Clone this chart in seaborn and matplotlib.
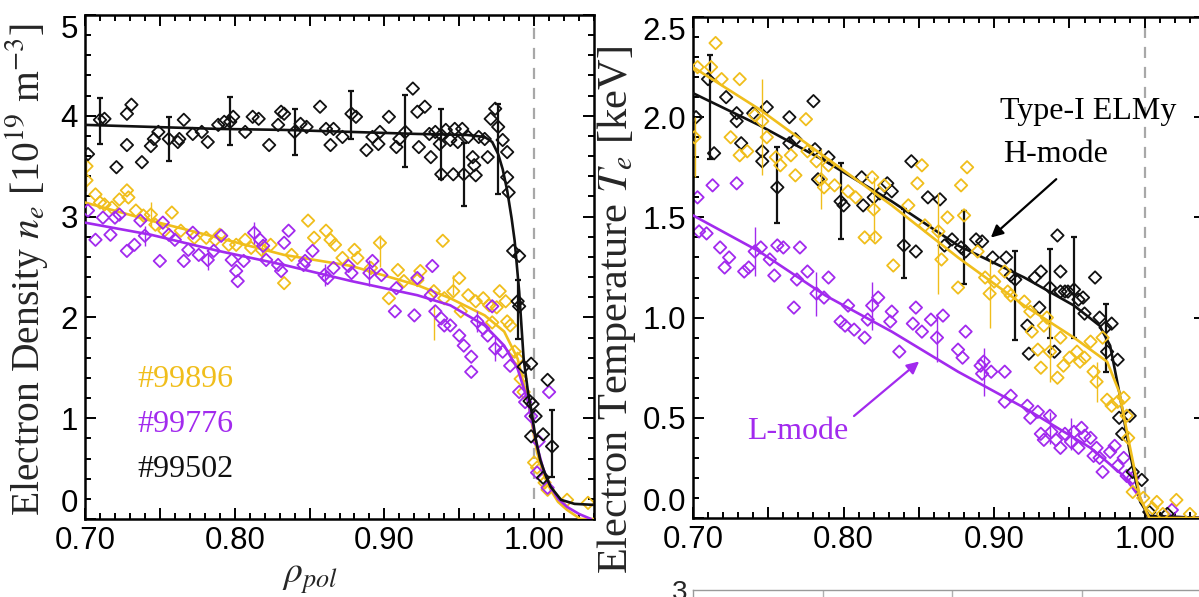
import matplotlib
matplotlib.use("Agg")
import matplotlib.pyplot as plt
import seaborn as sns
import pandas as pd
from matplotlib.ticker import MultipleLocator, FuncFormatter

# ---------------- data ----------------
# Left panel: electron density [1e19 m^-3] vs rho_pol
ne_h_pts = [(0.702,3.62),(0.710,3.96),(0.713,3.97),(0.721,3.49),(0.728,4.02),(0.731,4.11),(0.728,3.71),
            (0.738,3.54),(0.744,3.70),(0.746,3.77),(0.749,3.84),(0.756,3.77),(0.762,3.74),(0.763,3.77),
            (0.766,3.96),(0.772,3.82),(0.778,3.84),(0.782,3.74),(0.789,3.91),(0.793,3.94),(0.797,3.94),
            (0.799,3.99),(0.807,3.84),(0.812,3.99),(0.816,3.97),(0.823,3.71),(0.829,3.91),(0.831,4.04),
            (0.833,4.02),(0.840,3.84),(0.844,3.92),(0.848,3.89),(0.857,4.09),(0.861,3.87),(0.864,3.71),
            (0.866,3.87),(0.872,3.79),(0.878,4.02),(0.881,3.99),(0.888,3.66),(0.892,3.79),(0.896,3.72),
            (0.897,3.84),(0.903,3.99),(0.908,3.69),(0.910,3.77),(0.914,3.84),(0.919,4.27),(0.922,4.04),
            (0.923,3.69),(0.927,4.09),(0.930,3.82),(0.931,3.59),(0.934,3.84),(0.937,3.72),(0.938,3.42),
            (0.938,3.81),(0.941,3.86),(0.944,3.76),(0.946,3.42),(0.947,3.87),(0.949,3.74),(0.952,3.87),
            (0.953,3.42),(0.956,3.79),(0.959,3.59),(0.960,3.51),(0.961,3.41),(0.963,3.79),(0.967,3.77),
            (0.969,3.59),(0.971,3.97),(0.974,4.07),(0.976,3.89),(0.979,3.76),(0.982,3.64),(0.982,3.39),
            (0.983,3.24),(0.986,2.66),(0.990,2.61),(0.989,2.16),(0.990,2.11),(0.993,1.51),(0.998,1.54),
            (0.997,1.17),(0.999,1.14),(1.001,1.02),(1.006,0.84),(0.998,0.82),(1.012,0.72),(1.006,0.41),
            (1.009,1.38)]
ne_g_pts = [(0.701,3.36),(0.701,3.50),(0.707,3.22),(0.710,3.14),(0.713,3.12),(0.718,3.09),(0.723,3.17),
            (0.728,3.26),(0.729,3.19),(0.734,3.06),(0.739,3.01),(0.744,3.02),(0.747,2.92),(0.753,2.86),
            (0.758,3.04),(0.764,2.86),(0.773,2.79),(0.781,2.79),(0.787,2.77),(0.790,2.82),(0.796,2.72),
            (0.801,2.72),(0.807,2.77),(0.811,2.69),(0.818,2.67),(0.824,2.72),(0.833,2.34),(0.838,2.62),
            (0.849,2.96),(0.853,2.79),(0.861,2.86),(0.864,2.77),(0.867,2.72),(0.872,2.59),(0.880,2.67),
            (0.882,2.59),(0.891,2.49),(0.897,2.74),(0.903,2.19),(0.909,2.47),(0.913,2.36),(0.922,2.37),
            (0.924,2.46),(0.933,2.26),(0.939,2.76),(0.940,2.19),(0.946,2.26),(0.950,2.39),(0.951,2.06),
            (0.956,2.22),(0.961,2.16),(0.966,2.19),(0.970,2.12),(0.972,1.95),(0.975,2.10),(0.977,2.26),
            (0.981,2.16),(0.982,1.96),(0.984,1.92),(0.987,1.66),(0.989,1.59),(0.991,1.39),(0.993,1.26),
            (1.000,0.56),(1.002,0.51),(1.007,0.36),(1.009,0.29),(1.022,0.19),(1.036,0.16)]
ne_p_pts = [(0.702,3.06),(0.707,2.77),(0.712,2.99),(0.717,2.82),(0.720,2.99),(0.723,3.02),(0.728,2.66),
            (0.733,2.72),(0.737,2.96),(0.740,2.81),(0.750,2.56),(0.752,2.94),(0.756,2.82),(0.760,2.77),
            (0.766,2.56),(0.769,2.67),(0.772,2.84),(0.776,2.62),(0.782,2.57),(0.786,2.66),(0.791,2.81),
            (0.798,2.57),(0.801,2.46),(0.802,2.36),(0.806,2.56),(0.813,2.84),(0.817,2.77),(0.819,2.71),
            (0.821,2.57),(0.829,2.52),(0.831,2.46),(0.833,2.74),(0.836,2.86),(0.846,2.52),(0.847,2.56),
            (0.852,2.66),(0.860,2.42),(0.862,2.39),(0.866,2.49),(0.876,2.51),(0.878,2.44),(0.890,2.44),
            (0.892,2.56),(0.898,2.42),(0.907,2.06),(0.908,2.29),(0.920,2.02),(0.922,2.39),(0.931,2.22),
            (0.932,2.51),(0.934,2.06),(0.938,1.99),(0.940,1.92),(0.944,1.92),(0.950,1.82),(0.953,1.72),
            (0.958,1.61),(0.958,1.46),(0.962,1.96),(0.966,1.89),(0.969,1.82),(0.972,2.11),(0.974,1.69),
            (0.979,1.66),(0.984,1.52),(0.990,1.26),(0.994,1.16),(0.998,1.02),(1.003,0.77),(1.010,1.26),
            (1.002,0.46),(1.009,0.31)]
ne_h_fit = [(0.700,3.91),(0.744,3.89),(0.789,3.87),(0.833,3.86),(0.878,3.84),(0.922,3.82),(0.955,3.81),
            (0.967,3.79),(0.972,3.74),(0.976,3.62),(0.979,3.47),(0.982,3.26),(0.985,2.98),(0.987,2.76),
            (0.990,2.26),(0.993,1.59),(0.996,1.25),(0.998,1.09),(1.001,0.80),(1.004,0.59),(1.008,0.42),
            (1.011,0.32),(1.018,0.19),(1.027,0.15),(1.040,0.14)]
ne_g_fit = [(0.700,3.14),(0.744,2.96),(0.789,2.79),(0.833,2.62),(0.878,2.51),(0.922,2.32),(0.944,2.19),
            (0.967,2.02),(0.980,1.86),(0.989,1.59),(0.996,1.16),(1.002,0.66),(1.006,0.45),(1.011,0.29),
            (1.016,0.17),(1.022,0.09),(1.031,0.00),(1.040,0.00)]
ne_p_fit = [(0.700,2.94),(0.744,2.82),(0.789,2.66),(0.833,2.52),(0.878,2.36),(0.922,2.22),(0.944,2.12),
            (0.967,1.92),(0.980,1.72),(0.989,1.49),(0.996,1.16),(1.002,0.72),(1.006,0.50),(1.011,0.32),
            (1.016,0.20),(1.022,0.12),(1.030,0.05),(1.038,0.00)]
ne_h_err = [(0.710,3.95,0.23),(0.756,3.77,0.22),(0.797,3.95,0.24),(0.840,3.84,0.23),(0.878,4.01,0.24),
            (0.914,3.85,0.36),(0.938,3.72,0.35),(0.953,3.42,0.31),(0.976,3.67,0.45),(0.989,2.08,0.29),
            (1.012,0.75,0.33)]
ne_g_err = [(0.701,3.40,0.15),(0.744,3.02,0.12),(0.818,2.67,0.10),(0.897,2.66,0.16),(0.933,1.95,0.17),
            (0.946,2.32,0.10)]
ne_p_err = [(0.740,2.81,0.10),(0.782,2.57,0.10),(0.813,2.84,0.11),(0.860,2.42,0.11),(0.890,2.44,0.13),
            (0.962,1.96,0.10),(0.974,1.69,0.12)]

# Right panel: electron temperature [keV] vs rho_pol
te_h_pts = [(0.702,2.00),(0.710,2.19),(0.714,1.82),(0.722,2.10),(0.729,2.02),(0.729,1.98),(0.732,1.87),
            (0.740,2.02),(0.746,1.83),(0.746,1.78),(0.749,2.05),(0.756,1.65),(0.764,2.00),(0.764,1.87),
            (0.768,1.89),(0.780,2.08),(0.781,1.84),(0.783,1.69),(0.790,1.80),(0.798,1.58),(0.800,1.56),
            (0.812,1.70),(0.813,1.56),(0.820,1.60),(0.824,1.62),(0.829,1.67),(0.832,1.63),(0.840,1.36),
            (0.845,1.78),(0.848,1.33),(0.856,1.60),(0.864,1.59),(0.867,1.36),(0.872,1.39),(0.878,1.35),
            (0.881,1.33),(0.888,1.39),(0.892,1.38),(0.899,1.30),(0.908,1.30),(0.911,1.21),(0.914,1.19),
            (0.922,0.96),(0.923,0.82),(0.927,1.20),(0.931,1.23),(0.930,1.05),(0.937,1.15),(0.940,0.83),
            (0.942,1.41),(0.944,1.23),(0.944,1.13),(0.947,1.13),(0.949,1.13),(0.953,1.14),(0.956,1.09),
            (0.959,1.10),(0.960,1.02),(0.967,1.20),(0.970,1.00),(0.974,0.95),(0.975,0.83),(0.978,0.97),
            (0.982,0.79),(0.983,0.50),(0.985,0.42),(0.990,0.51),(0.992,0.23),(0.998,0.19),(1.003,0.03),
            (1.015,0.02)]
te_g_pts = [(0.701,1.90),(0.703,2.25),(0.712,2.25),(0.715,2.37),(0.719,2.19),(0.725,1.90),(0.731,2.19),
            (0.731,1.81),(0.736,1.83),(0.741,2.01),(0.746,1.98),(0.749,1.90),(0.755,1.80),(0.758,1.76),
            (0.765,1.81),(0.768,1.71),(0.775,1.99),(0.776,1.83),(0.782,1.78),(0.785,1.69),(0.787,1.65),
            (0.790,1.76),(0.794,1.66),(0.803,1.63),(0.808,1.60),(0.814,1.40),(0.819,1.70),(0.821,1.40),
            (0.820,1.54),(0.827,1.66),(0.833,1.26),(0.843,1.56),(0.849,1.67),(0.852,1.76),(0.854,1.46),
            (0.863,1.43),(0.865,1.29),(0.869,1.50),(0.876,1.15),(0.878,1.66),(0.880,1.51),(0.882,1.75),
            (0.889,1.33),(0.894,1.20),(0.897,1.12),(0.900,1.18),(0.907,1.23),(0.909,1.13),(0.911,1.11),
            (0.920,1.08),(0.924,1.03),(0.925,0.93),(0.929,0.84),(0.931,0.75),(0.933,0.96),(0.935,1.00),
            (0.937,0.83),(0.942,0.70),(0.944,0.90),(0.946,0.76),(0.950,0.80),(0.955,0.83),(0.957,0.78),
            (0.960,0.80),(0.964,0.88),(0.966,0.73),(0.968,0.68),(0.972,0.90),(0.975,0.59),(0.978,0.56),
            (0.982,0.58),(0.986,0.60),(0.988,0.51),(0.989,0.40),(0.992,0.13),(0.999,0.10),(1.005,0.05),
            (1.008,0.08),(1.012,0.02),(1.021,0.09),(1.030,0.02)]
te_p_pts = [(0.703,1.60),(0.704,1.43),(0.709,1.42),(0.713,1.66),(0.718,1.35),(0.721,1.25),(0.724,1.30),
            (0.729,1.67),(0.734,1.23),(0.737,1.25),(0.741,1.33),(0.745,1.35),(0.751,1.29),(0.754,1.21),
            (0.756,1.36),(0.760,1.35),(0.767,1.05),(0.769,1.19),(0.771,1.35),(0.776,1.23),(0.782,1.12),
            (0.787,1.10),(0.790,1.20),(0.798,0.98),(0.801,0.96),(0.803,1.06),(0.807,0.94),(0.814,0.90),
            (0.816,0.99),(0.819,1.06),(0.823,1.10),(0.831,0.98),(0.832,1.03),(0.837,0.83),(0.846,0.97),
            (0.848,1.05),(0.852,0.93),(0.858,0.99),(0.862,0.90),(0.866,1.01),(0.876,0.84),(0.879,0.80),
            (0.881,0.93),(0.891,0.76),(0.892,0.72),(0.893,0.78),(0.898,0.73),(0.907,0.73),(0.907,0.58),
            (0.911,0.61),(0.922,0.56),(0.924,0.50),(0.929,0.53),(0.931,0.42),(0.933,0.39),(0.937,0.51),
            (0.938,0.43),(0.941,0.39),(0.944,0.35),(0.947,0.42),(0.951,0.38),(0.953,0.43),(0.956,0.35),
            (0.958,0.45),(0.960,0.41),(0.964,0.40),(0.966,0.31),(0.968,0.35),(0.970,0.30),(0.972,0.23),
            (0.977,0.33),(0.980,0.36),(0.982,0.26),(0.986,0.30),(0.988,0.21),(0.992,0.20),(1.018,0.04)]
te_h_fit = [(0.700,2.12),(0.744,1.96),(0.788,1.78),(0.832,1.58),(0.876,1.36),(0.920,1.20),(0.953,1.06),
            (0.970,0.96),(0.977,0.86),(0.983,0.63),(0.990,0.33),(0.997,0.08),(1.003,0.01),(1.040,0.00)]
te_g_fit = [(0.700,2.25),(0.744,2.04),(0.788,1.80),(0.832,1.56),(0.876,1.30),(0.920,1.06),(0.953,0.90),
            (0.975,0.78),(0.983,0.63),(0.990,0.36),(0.997,0.10),(1.003,0.00),(1.040,0.00)]
te_p_fit = [(0.700,1.51),(0.744,1.33),(0.788,1.11),(0.832,0.93),(0.876,0.73),(0.920,0.55),(0.964,0.35),
            (0.986,0.21),(0.997,0.10),(1.002,0.01),(1.040,0.00)]
te_h_err = [(0.711,2.05,0.26),(0.756,1.66,0.19),(0.798,1.58,0.19),(0.840,1.37,0.17),(0.880,1.35,0.18),
            (0.914,1.11,0.22),(0.937,1.12,0.22),(0.953,1.15,0.25),(0.974,0.90,0.17)]
te_g_err = [(0.701,1.85,0.15),(0.746,1.95,0.24),(0.785,1.69,0.15),(0.820,1.54,0.16),(0.863,1.37,0.25),
            (0.897,1.12,0.17),(0.937,0.83,0.15),(0.968,0.68,0.10)]
te_p_err = [(0.741,1.33,0.12),(0.782,1.12,0.11),(0.819,1.06,0.12),(0.862,0.90,0.12),(0.893,0.73,0.12),
            (0.937,0.45,0.08),(0.951,0.42,0.08)]

shots = ["#99896", "#99776", "#99502"]
x_ticks = [0.70, 0.80, 0.90, 1.00]

GOLD = "#F0BE1C"
PURPLE = "#A22AEE"
BLACK = "#111111"
shot_colors = [GOLD, PURPLE, BLACK]

# ---------------- style ----------------
sns.set_theme(style="white")
plt.rcParams["font.family"] = ["Liberation Sans", "DejaVu Sans"]
plt.rcParams["mathtext.fontset"] = "stix"
SERIF = ["Liberation Serif", "DejaVu Serif"]

W, H = 1199, 597
fig = plt.figure(figsize=(W / 100, H / 100), dpi=100)
axL = fig.add_axes([85 / W, 1 - 519 / H, (594 - 85) / W, (519 - 15) / H])
axR = fig.add_axes([693 / W, 1 - 518 / H, (1205 - 693) / W, (518 - 17) / H])
axB = fig.add_axes([693 / W, -0.5, (1212 - 693) / W, 0.5 + (597 - 590) / H])


def df2(pts):
    return pd.DataFrame(pts, columns=["x", "y"])


def draw_series(ax, pts, fit, err, color, z, cap, elw):
    e = pd.DataFrame(err, columns=["x", "y", "e"])
    ax.errorbar(e["x"], e["y"], yerr=e["e"], fmt="none", ecolor=color,
                elinewidth=elw, capsize=cap, capthick=elw, zorder=z)
    sns.scatterplot(data=df2(pts), x="x", y="y", ax=ax, marker="D", s=40,
                    color=color, facecolor="none", edgecolor=color,
                    linewidth=1.3, zorder=z + 0.5, legend=False)
    sns.lineplot(data=df2(fit), x="x", y="y", ax=ax, color=color, lw=1.9,
                 estimator=None, sort=False, zorder=z + 0.7, legend=False)


def style_axis(ax, ymaj, ymin):
    ax.set_xlim(0.70, 1.04)
    ax.xaxis.set_major_locator(MultipleLocator(0.05))
    ax.xaxis.set_minor_locator(MultipleLocator(0.01))
    ax.xaxis.set_major_formatter(FuncFormatter(
        lambda v, p: f"{v:.2f}" if any(abs(v - t) < 1e-6 for t in x_ticks) else ""))
    ax.yaxis.set_major_locator(MultipleLocator(ymaj))
    ax.yaxis.set_minor_locator(MultipleLocator(ymin))
    ax.tick_params(which="both", direction="in", top=True, right=True,
                   bottom=True, left=True, colors="black", width=1.4)
    ax.tick_params(which="major", length=8, labelsize=22.5, pad=5)
    ax.tick_params(which="minor", length=4)
    for s in ax.spines.values():
        s.set_color("black")
        s.set_linewidth(1.8)
    ax.axvline(1.0, color="#A8A8A8", lw=1.6, ls=(0, (5, 4)), zorder=0.5)
    ax.set_xlabel("")
    ax.set_ylabel("")


# ---- left: density ----
draw_series(axL, ne_g_pts, ne_g_fit, ne_g_err, GOLD, 2, 0, 1.0)
draw_series(axL, ne_p_pts, ne_p_fit, ne_p_err, PURPLE, 3, 0, 1.0)
draw_series(axL, ne_h_pts, ne_h_fit, ne_h_err, BLACK, 4, 2.5, 1.6)
style_axis(axL, 1, 0.2)
axL.set_ylim(0, 5.0)
axL.yaxis.set_major_formatter(FuncFormatter(lambda v, p: f"{v:.0f}"))

for i, (name, col) in enumerate(zip(shots, shot_colors)):
    axL.text(0.735, 1.38 - 0.445 * i, name, color=col, fontsize=23,
             family=SERIF, ha="left", va="center")

# ---- right: temperature ----
draw_series(axR, te_p_pts, te_p_fit, te_p_err, PURPLE, 2, 0, 1.0)
draw_series(axR, te_h_pts, te_h_fit, te_h_err, BLACK, 3, 2.5, 1.6)
draw_series(axR, te_g_pts, te_g_fit, te_g_err, GOLD, 4, 0, 1.0)
style_axis(axR, 0.5, 0.1)
axR.set_ylim(0, 2.5)
axR.yaxis.set_major_formatter(FuncFormatter(lambda v, p: f"{v:.1f}"))

axR.text(0.904, 2.03, "Type-I ELMy", fontsize=23, family=SERIF, color="black",
         ha="left", va="center")
axR.text(0.906, 1.815, "H-mode", fontsize=23, family=SERIF, color="black",
         ha="left", va="center")
axR.annotate("", xy=(0.8964, 1.39), xytext=(0.9426, 1.70),
             arrowprops=dict(arrowstyle="-|>", color="black", lw=1.6,
                             mutation_scale=18))
axR.text(0.736, 0.43, "L-mode", fontsize=23, family=SERIF, color=PURPLE,
         ha="left", va="center")
axR.annotate("", xy=(0.8516, 0.79), xytext=(0.8055, 0.50),
             arrowprops=dict(arrowstyle="-|>", color=PURPLE, lw=1.6,
                             mutation_scale=18))

# ---- axis titles ----
fig.text(27 / W, 1 - 270 / H, r"Electron Density $n_e$ [10$^{19}$ m$^{-3}$]",
         rotation=90, ha="center", va="center", fontsize=28.5, family=SERIF)
fig.text(617 / W, 1 - 310 / H, r"Electron Temperature $T_e$ [keV]",
         rotation=90, ha="center", va="center", fontsize=30.5, family=SERIF)
fig.text(310 / W, 1 - 578 / H, r"$\rho_{pol}$", ha="center", va="center",
         fontsize=27)

# ---- partially visible lower panel ----
axB.set_xlim(0, 4)
axB.set_ylim(0, 3)
axB.set_xticks([1, 2, 3])
axB.set_yticks([3])
axB.set_yticklabels(["3"])
axB.tick_params(axis="y", labelsize=20, length=0, pad=4)
axB.tick_params(axis="x", labelbottom=False, length=0)
axB.grid(axis="x", color="#B0B0B0", lw=1.0)
for s in axB.spines.values():
    s.set_color("#9A9A9A")
    s.set_linewidth(1.0)

# end y-tick labels sit inside the frame, as in the reference
fig.canvas.draw()
for ax in (axL, axR):
    ticks = ax.yaxis.get_major_ticks()
    lo, hi = ax.get_ylim()
    for t in ticks:
        loc = t.get_loc()
        if abs(loc - lo) < 1e-6:
            t.label1.set_verticalalignment("bottom")
        elif abs(loc - hi) < 1e-6:
            t.label1.set_verticalalignment("top")

fig.savefig("out.png", dpi=100)
